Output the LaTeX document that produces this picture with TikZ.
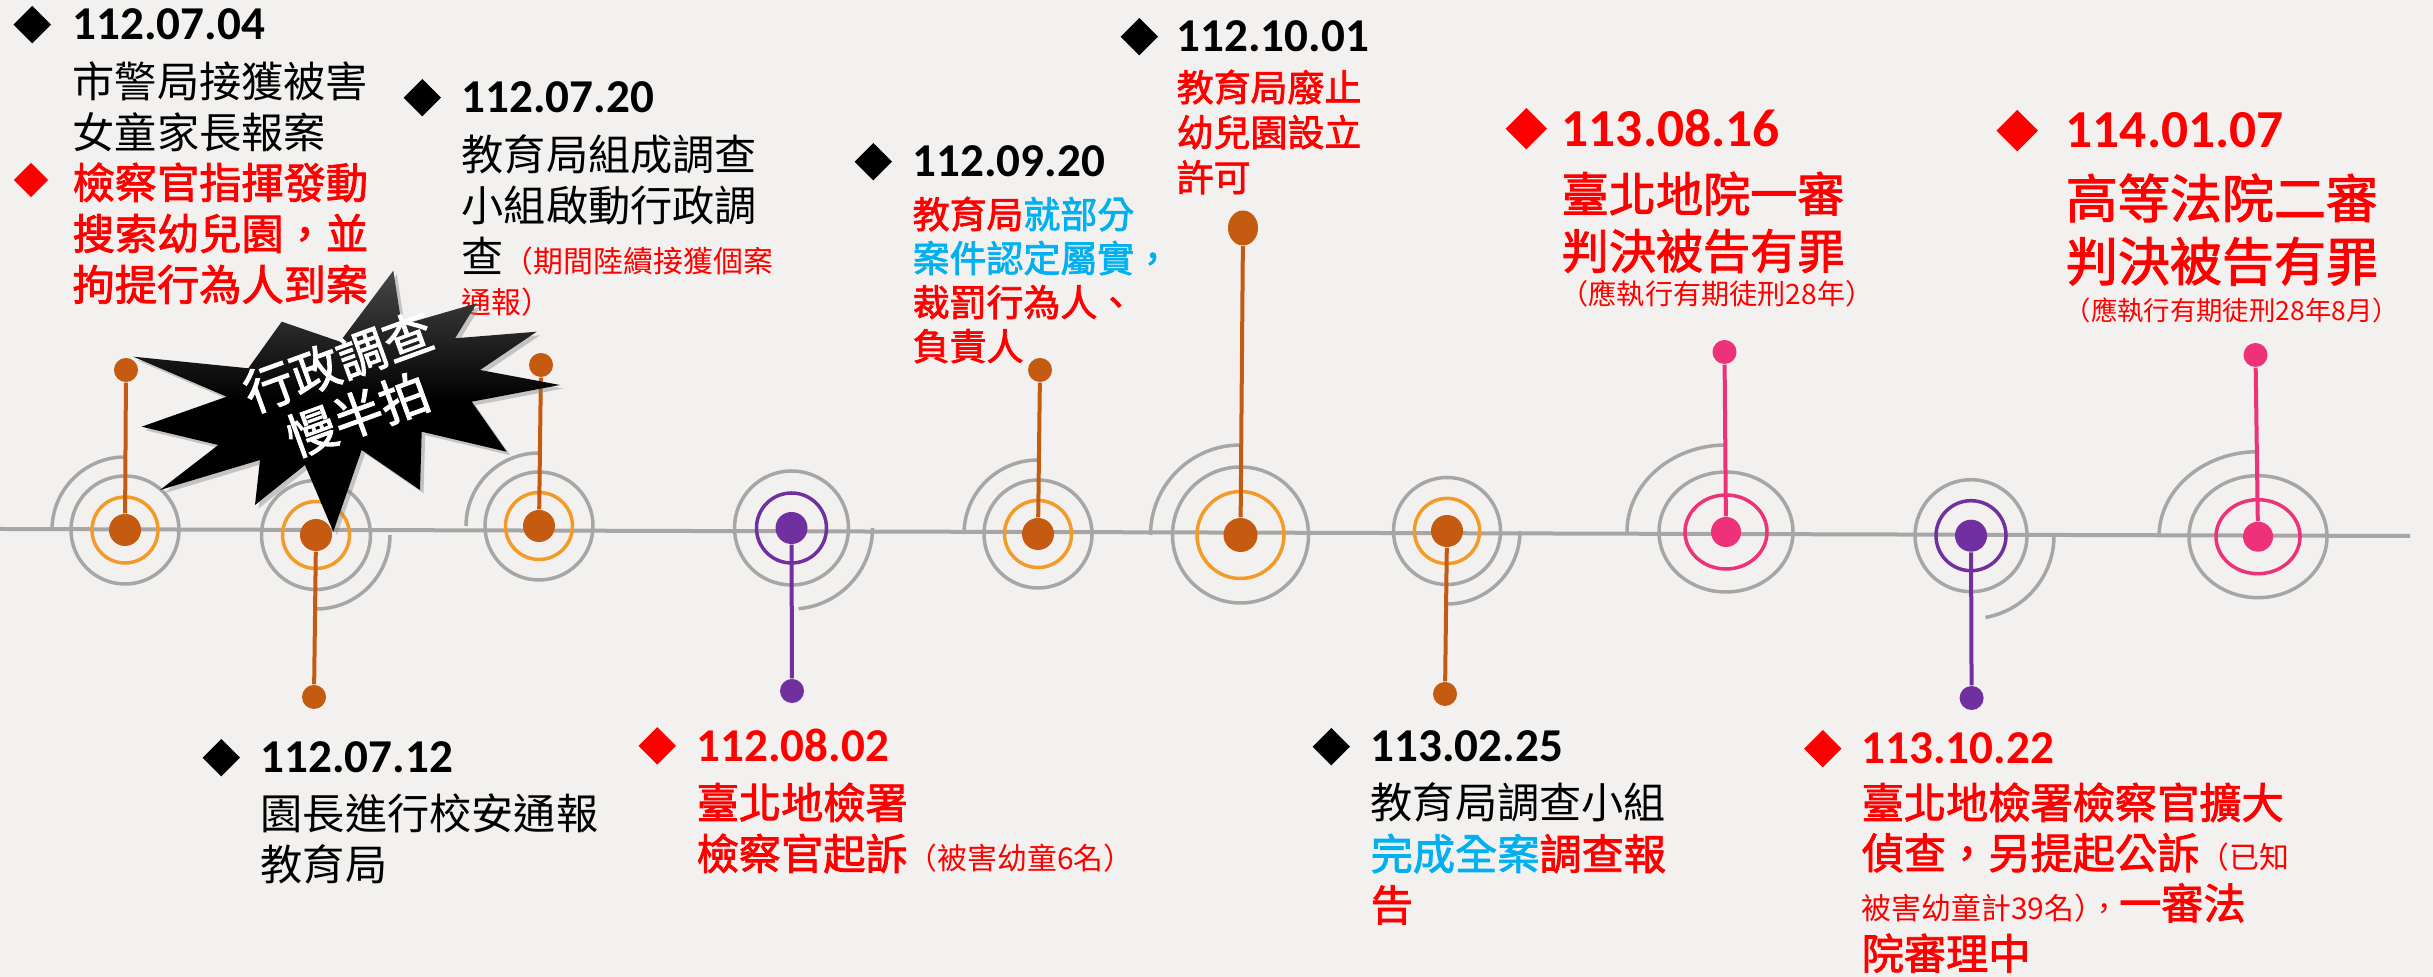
\documentclass[tikz,border=0pt]{standalone}
\usepackage{fontspec}
\setmainfont{Carlito}
\newfontfamily\cjk{Noto Sans CJK TC}[BoldFont={Noto Sans CJK TC}, BoldFeatures={FakeBold=2}]
\usetikzlibrary{positioning,shapes.geometric,shadows}

\definecolor{tlbg}{RGB}{242,241,239}
\definecolor{tlgray}{RGB}{166,166,166}
\definecolor{tlbrown}{RGB}{197,90,17}
\definecolor{tlorange}{RGB}{242,155,40}
\definecolor{tlpurple}{RGB}{112,48,160}
\definecolor{tlpink}{RGB}{238,50,122}
\definecolor{tlred}{RGB}{255,0,0}
\definecolor{tlcyan}{RGB}{0,176,240}

\newcommand\smallnote[1]{{\fontsize{8.5}{10}\selectfont\mdseries #1}}

\begin{document}
\begin{tikzpicture}[
    x = 0.01cm, y = 0.01cm, % one unit = one pixel of the layout
    hubdot/.style = {circle, fill=#1, inner sep=0pt, minimum size=0.32cm},
    enddot/.style = {circle, fill=#1, inner sep=0pt, minimum size=0.24cm},
    stem/.style = {draw=#1, line width=0.04cm},
    ring/.style = {draw=#1, line width=0.035cm},
    wave/.style = {draw=tlgray, line width=0.035cm},
    datemark/.style = {diamond, fill=#1, inner sep=0pt, minimum size=0.38cm},
    datetxt/.style = {font=\fontsize{13.4}{16}\selectfont\bfseries, text=#1, inner sep=0pt, anchor=base west},
    datetxt/.default = black,
    bodytxt/.style = {font=\cjk\fontsize{12}{14.5}\selectfont, align=left, inner sep=0pt, anchor=north west},
    redtxt/.style = {bodytxt, font=\cjk\bfseries\fontsize{12}{14.5}\selectfont, text=tlred}
    ]

    \useasboundingbox (0,0) rectangle (2433,-977);
    \fill[tlbg] (0,0) rectangle (2433,-977);

    % time line
    \coordinate (lineL) at (0,-529);
    \coordinate (lineR) at (2410,-536);
    \draw[wave, line width=0.04cm] (lineL) -- (lineR);

    % 112.07.04
    \node[hubdot=tlbrown] (hub1) at (125,-530) {};
    \node[enddot=tlbrown] (end1) at (126,-370) {};
    \draw[wave] (hub1.center) circle[radius=54];
    \draw[wave] (hub1.center) ++(-73,0) arc[start angle=180, end angle=90, radius=73];
    \draw[ring=tlorange] (hub1.center) circle[radius=33];
    \draw[stem=tlbrown] (hub1) -- (end1);

    % 112.07.12
    \node[hubdot=tlbrown] (hub2) at (316,-535) {};
    \node[enddot=tlbrown] (end2) at (314,-697) {};
    \draw[wave] (hub2.center) circle[radius=54.5];
    \draw[wave] (hub2.center) ++(74,0) arc[start angle=0, end angle=-90, radius=74];
    \draw[ring=tlorange] (hub2.center) circle[radius=33.5];
    \draw[stem=tlbrown] (hub2) -- (end2);

    % 112.07.20
    \node[hubdot=tlbrown] (hub3) at (539,-526) {};
    \node[enddot=tlbrown] (end3) at (541,-365) {};
    \draw[wave] (hub3.center) circle[radius=54];
    \draw[wave] (hub3.center) ++(-73,0) arc[start angle=180, end angle=90, radius=73];
    \draw[ring=tlorange] (hub3.center) circle[radius=33.5];
    \draw[stem=tlbrown] (hub3) -- (end3);

    % 112.08.02
    \node[hubdot=tlpurple] (hub4) at (791.5,-528) {};
    \node[enddot=tlpurple] (end4) at (792,-691) {};
    \draw[wave] (hub4.center) circle[radius=57];
    \draw[wave] (hub4.center) ++(81,0) arc[start angle=0, end angle=-85, radius=81];
    \draw[ring=tlpurple] (hub4.center) circle[radius=35];
    \draw[stem=tlpurple] (hub4) -- (end4);

    % 112.09.20
    \node[hubdot=tlbrown] (hub5) at (1038,-534) {};
    \node[enddot=tlbrown] (end5) at (1040,-370) {};
    \draw[wave] (hub5.center) circle[radius=54];
    \draw[wave] (hub5.center) ++(-74,0) arc[start angle=180, end angle=90, radius=74];
    \draw[ring=tlorange] (hub5.center) circle[radius=33.5];
    \draw[stem=tlbrown] (hub5) -- (end5);

    % 112.10.01
    \node[hubdot=tlbrown, minimum size=0.34cm] (hub6) at (1240.5,-535) {};
    \node[enddot=tlbrown, ellipse, minimum width=0.30cm, minimum height=0.35cm] (end6) at (1243,-228) {};
    \draw[wave] (hub6.center) circle[radius=68];
    \draw[wave] (hub6.center) ++(-90,0) arc[start angle=180, end angle=90, radius=90];
    \draw[ring=tlorange] (hub6.center) circle[radius=43.5];
    \draw[stem=tlbrown] (hub6) -- (end6);

    % 113.02.25
    \node[hubdot=tlbrown] (hub7) at (1447,-531) {};
    \node[enddot=tlbrown] (end7) at (1445,-694) {};
    \draw[wave] (hub7.center) circle[radius=53.5];
    \draw[wave] (hub7.center) ++(73,0) arc[start angle=0, end angle=-90, radius=73];
    \draw[ring=tlorange] (hub7.center) circle[radius=32.6];
    \draw[stem=tlbrown] (hub7) -- (end7);

    % 113.08.16
    \node[hubdot=tlpink, minimum size=0.30cm] (hub8) at (1726,-532) {};
    \node[enddot=tlpink] (end8) at (1724.5,-352) {};
    \draw[wave] (hub8.center) ellipse[x radius=67, y radius=60];
    \draw[wave] (hub8.center) ++(-99,0) arc[start angle=180, end angle=90, x radius=99, y radius=87];
    \draw[ring=tlpink] (hub8.center) ellipse[x radius=41, y radius=37];
    \draw[stem=tlpink] (hub8) -- (end8);

    % 113.10.22
    \node[hubdot=tlpurple] (hub9) at (1971,-535.7) {};
    \node[enddot=tlpurple] (end9) at (1971.6,-698) {};
    \draw[wave] (hub9.center) circle[radius=56];
    \draw[wave] (hub9.center) ++(83,0) arc[start angle=0, end angle=-80, radius=83];
    \draw[ring=tlpurple] (hub9.center) circle[radius=35];
    \draw[stem=tlpurple] (hub9) -- (end9);

    % 114.01.07
    \node[hubdot=tlpink, minimum size=0.30cm] (hub10) at (2258,-536.7) {};
    \node[enddot=tlpink] (end10) at (2255.5,-355) {};
    \draw[wave] (hub10.center) ellipse[x radius=69, y radius=61];
    \draw[wave] (hub10.center) ++(-99,0) arc[start angle=180, end angle=90, x radius=99, y radius=85];
    \draw[ring=tlpink] (hub10.center) ellipse[x radius=42, y radius=37];
    \draw[stem=tlpink] (hub10) -- (end10);

    % texts above and below the line
    \node[datetxt] (dateA) at (72,-40) {112.07.04};
    \node[datemark=black, left=0.2cm of dateA] (markA) {};
    \node[bodytxt, below=0.2cm of dateA.south west, anchor=north west] (txtA) {市警局接獲被害\\女童家長報案};
    \node[redtxt] (txtA2) at (72,-162) {檢察官指揮發動\\搜索幼兒園，並\\拘提行為人到案};
    \node[datemark=tlred, minimum size=0.35cm] (markA2) at (31,-180) {};

    \node[datetxt] (dateB) at (461,-113) {112.07.20};
    \node[datemark=black, left=0.19cm of dateB] (markB) {};
    \node[bodytxt, below=0.2cm of dateB.south west, anchor=north west] (txtB) {教育局組成調查\\小組啟動行政調\\查\textcolor{tlred}{\smallnote{（期間陸續接獲個案}}\\[-3pt]\textcolor{tlred}{\smallnote{通報）}}};

    \node[datetxt] (dateC) at (912,-177) {112.09.20};
    \node[datemark=black, left=0.19cm of dateC] (markC) {};
    \node[redtxt, font=\cjk\bfseries\fontsize{10.5}{12.5}\selectfont, below=0.18cm of dateC.south west, anchor=north west] (txtC) {教育局\textcolor{tlcyan}{就部分}\\\textcolor{tlcyan}{案件認定屬實，}\\裁罰行為人、\\負責人};

    \node[datetxt] (dateD) at (1176,-52) {112.10.01};
    \node[datemark=black, left=0.17cm of dateD] (markD) {};
    \node[redtxt, font=\cjk\bfseries\fontsize{10.5}{12.8}\selectfont, below=0.16cm of dateD.south west, anchor=north west] (txtD) {教育局廢止\\幼兒園設立\\許可};

    \node[datetxt=tlred, font=\fontsize{15.2}{18}\selectfont\bfseries] (dateE) at (1561,-147) {113.08.16};
    \node[datemark=tlred, minimum size=0.42cm, left=0.13cm of dateE] (markE) {};
    \node[redtxt, font=\cjk\bfseries\fontsize{13.4}{16.2}\selectfont, below=0.23cm of dateE.south west, anchor=north west] (txtE) {臺北地院一審\\判決被告有罪};
    \node[bodytxt, text=tlred, font=\cjk\fontsize{8}{10}\selectfont] (noteE) at (1560,-280) {（應執行有期徒刑28年）};

    \node[datetxt=tlred, font=\fontsize{15.2}{18}\selectfont\bfseries] (dateF) at (2065,-148) {114.01.07};
    \node[datemark=tlred, minimum size=0.42cm, left=0.26cm of dateF] (markF) {};
    \node[redtxt, font=\cjk\bfseries\fontsize{14.8}{17.9}\selectfont, below=0.24cm of dateF.south west, anchor=north west] (txtF) {高等法院二審\\判決被告有罪};
    \node[bodytxt, text=tlred, font=\cjk\fontsize{7.5}{9}\selectfont] (noteF) at (2064,-297) {（應執行有期徒刑28年8月）};

    \node[datetxt] (dateG) at (260,-773) {112.07.12};
    \node[datemark=black, left=0.19cm of dateG] (markG) {};
    \node[bodytxt, below=0.19cm of dateG.south west, anchor=north west] (txtG) {園長進行校安通報\\教育局};

    \node[datetxt=tlred] (dateH) at (696,-762) {112.08.02};
    \node[datemark=tlred, left=0.19cm of dateH] (markH) {};
    \node[redtxt, below=0.19cm of dateH.south west, anchor=north west] (txtH) {臺北地檢署\\檢察官起訴\smallnote{（被害幼童6名）}};

    \node[datetxt] (dateI) at (1370,-762) {113.02.25};
    \node[datemark=black, left=0.19cm of dateI] (markI) {};
    \node[bodytxt, below=0.19cm of dateI.south west, anchor=north west] (txtI) {教育局調查小組\\{\bfseries\textcolor{tlcyan}{完成全案}\textcolor{tlred}{調查報}}\\{\bfseries\textcolor{tlred}{告}}};

    \node[datetxt=tlred] (dateJ) at (1861,-764) {113.10.22};
    \node[datemark=tlred, left=0.185cm of dateJ] (markJ) {};
    \node[redtxt, font=\cjk\bfseries\fontsize{12}{14.3}\selectfont, below=0.17cm of dateJ.south west, anchor=north west] (txtJ) {臺北地檢署檢察官擴大\\偵查，另提起公訴\smallnote{（已知}\\\smallnote{被害幼童計39名）\kern-0.5em，}一審法\\院審理中};

    % burst
    \path[drop shadow={shadow xshift=1pt, shadow yshift=-1pt, opacity=0.4},
        top color=black!72, bottom color=black, middle color=black]
        (393.3,-270.7) -- (401.7,-325) -- (476.7,-303.3) -- (455,-338.3)
        -- (536.7,-331.7) -- (480,-370) -- (560,-385) -- (471.7,-401.7)
        -- (506.7,-451.7) -- (421.7,-431.7) -- (420,-490) -- (361.7,-450)
        -- (333.3,-531.7) -- (305,-465) -- (255,-505) -- (260,-460)
        -- (160,-490) -- (218.3,-445) -- (141.7,-426.7) -- (226.7,-396.7)
        -- (133.3,-356.7) -- (248.3,-368.3) -- (281.7,-321.7) -- (340,-341.7) -- cycle;
    \node[font=\cjk\bfseries\fontsize{14}{16}\selectfont, text=white, align=center, rotate=20] (slow) at (348,-388) {行政調查\\慢半拍};
\end{tikzpicture}
\end{document}
